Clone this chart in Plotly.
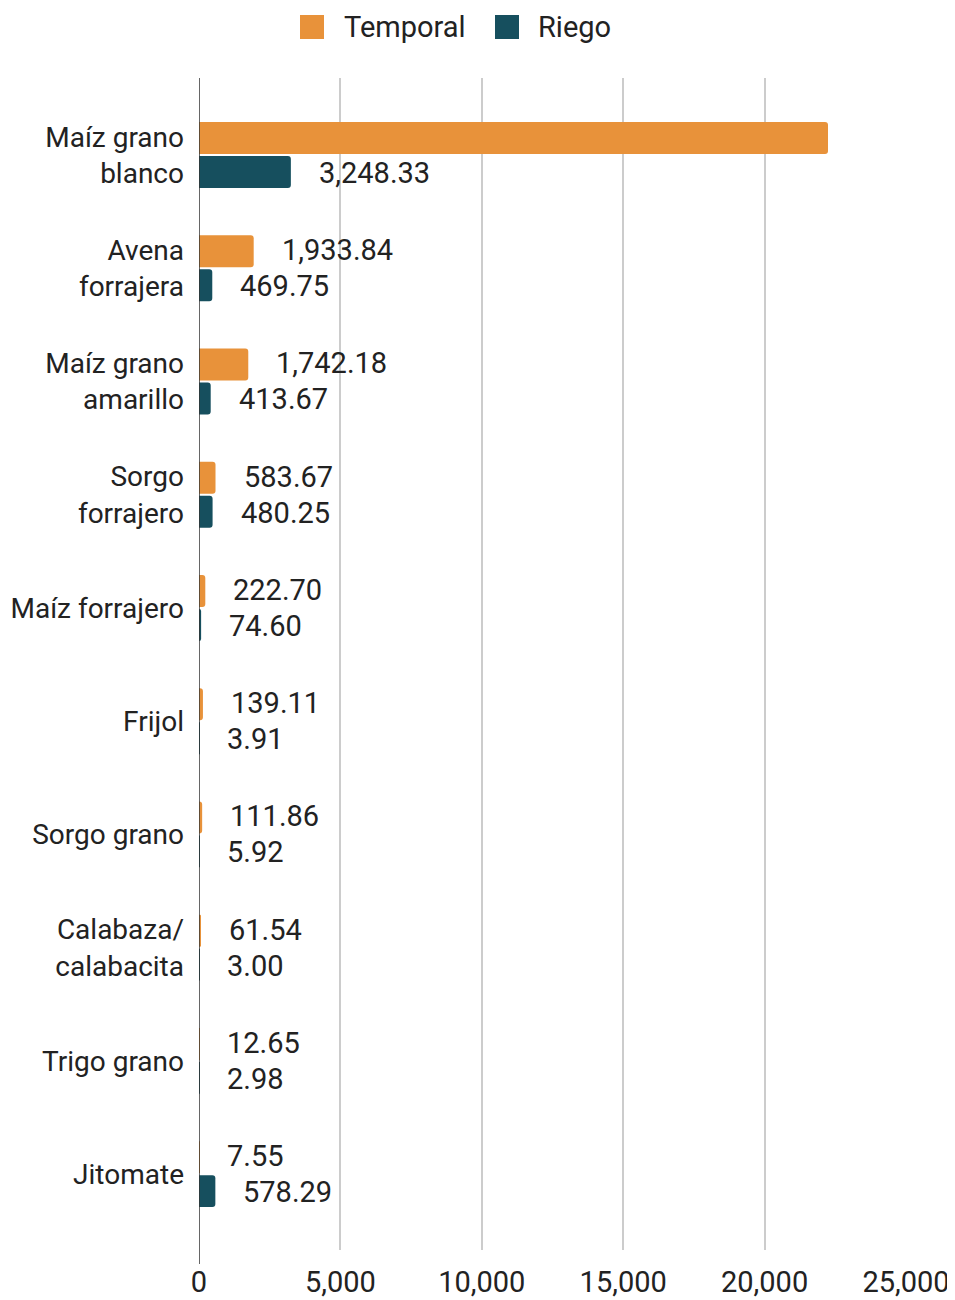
import plotly.graph_objects as go

categories = ["Maíz grano<br>blanco", "Avena<br>forrajera", "Maíz grano<br>amarillo", "Sorgo<br>forrajero",
              "Maíz forrajero", "Frijol", "Sorgo grano", "Calabaza/<br>calabacita", "Trigo grano", "Jitomate"]
temporal = [22242.0, 1933.84, 1742.18, 583.67, 222.70, 139.11, 111.86, 61.54, 12.65, 7.55]
riego = [3248.33, 469.75, 413.67, 480.25, 74.60, 3.91, 5.92, 3.00, 2.98, 578.29]
x_ticks = [0, 5000, 10000, 15000, 20000, 25000]
series_names = ["Temporal", "Riego"]

ORANGE = "#E8923A"
TEAL = "#164F5E"
FONT = "Roboto"
FS = 29

W, H = 947, 1292
L, R, T, B = 191, 49, 70, 50
PW, PH = W - L - R, H - T - B
OFF = 8  # page body margin


def px_x(page_x):
    return (page_x - OFF - L) / PW


def px_y(page_y):
    return 1 - (page_y - OFF - T) / PH


fig = go.Figure()
fig.add_trace(go.Bar(name=series_names[0], y=categories, x=temporal, orientation="h", showlegend=False,
                     marker=dict(color=ORANGE, line=dict(width=0))))
fig.add_trace(go.Bar(name=series_names[1], y=categories, x=riego, orientation="h", showlegend=False,
                     marker=dict(color=TEAL, line=dict(width=0))))

annotations = []
for i, c in enumerate(categories):
    for val, shift in ((temporal[i], 18), (riego[i], -18)):
        if i == 0 and shift > 0:
            continue  # label of the longest bar is not visible in the chart
        annotations.append(dict(x=val, y=c, xref="x", yref="y", text=f"{val:,.2f}",
                                showarrow=False, xanchor="left", yanchor="middle",
                                xshift=26, yshift=shift,
                                font=dict(family=FONT, size=FS, color="#222222")))

# manual legend
shapes = []
legend_items = [(series_names[0], ORANGE, 300, 342), (series_names[1], TEAL, 495, 536)]
for name, col, sq_x, tx in legend_items:
    shapes.append(dict(type="rect", xref="paper", yref="paper",
                       x0=px_x(sq_x), x1=px_x(sq_x + 24), y0=px_y(39), y1=px_y(15),
                       fillcolor=col, line=dict(width=0), layer="above"))
    annotations.append(dict(x=px_x(tx), y=px_y(27), xref="paper", yref="paper", text=name,
                            showarrow=False, xanchor="left", yanchor="middle",
                            font=dict(family=FONT, size=FS, color="#222222")))

shapes.append(dict(type="line", xref="x", yref="paper", x0=0, x1=0, y0=-0.012, y1=1,
                   line=dict(color="#333333", width=1.5)))

fig.update_layout(
    width=W, height=H,
    margin=dict(l=L, r=R, t=T, b=B, autoexpand=False),
    paper_bgcolor="white", plot_bgcolor="white",
    barmode="group", bargap=0.4, bargroupgap=0.06, barcornerradius=3,
    font=dict(family=FONT, size=FS, color="#222222"),
    showlegend=False,
    annotations=annotations,
    shapes=shapes,
    xaxis=dict(range=[0, 25000], tickvals=x_ticks, ticktext=[f"{v:,}" for v in x_ticks],
               showgrid=True, gridcolor="#CCCCCC", gridwidth=1.5, zeroline=False,
               showline=False, ticks="", ticklabelstandoff=12, automargin=False,
               tickfont=dict(family=FONT, size=FS, color="#222222")),
    yaxis=dict(range=[9.67, -0.68], showgrid=False, zeroline=False, showline=False,
               ticks="", ticklabelstandoff=14, automargin=False,
               tickfont=dict(family=FONT, size=28, color="#222222")),
)

fig.write_html("out.html")
